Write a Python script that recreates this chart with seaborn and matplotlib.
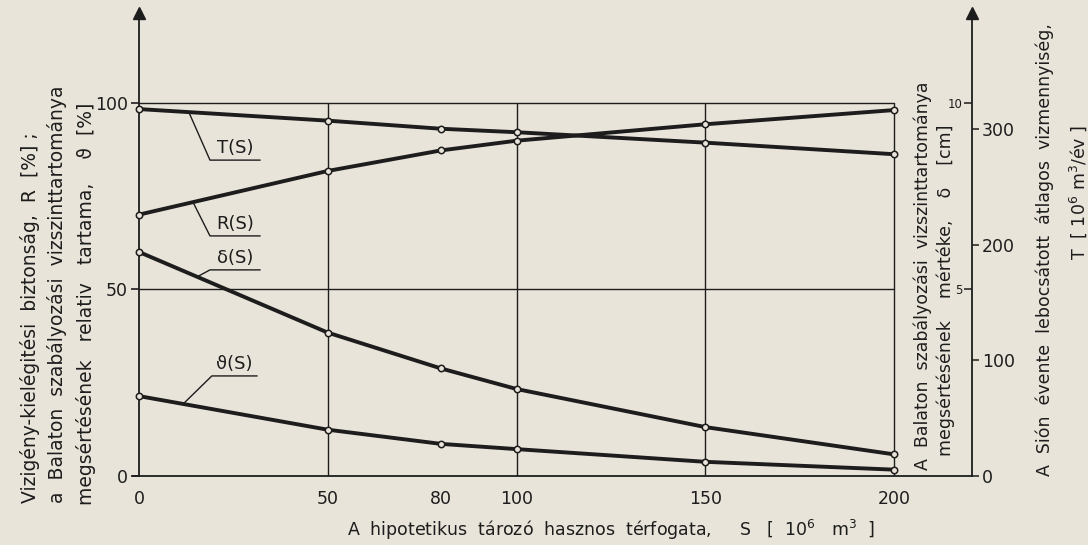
import numpy as np
import matplotlib
matplotlib.use("Agg")
import matplotlib.pyplot as plt
import seaborn as sns

# --- data -----------------------------------------------------------------
S = [0, 50, 80, 100, 150, 200]                       # S [10^6 m3]
R = [70.0, 81.7, 87.2, 89.8, 94.2, 98.0]             # R(S) [%]
THETA = [21.4, 12.4, 8.6, 7.2, 3.8, 1.7]             # ϑ(S) [%]
DELTA = [6.0, 3.84, 2.88, 2.33, 1.31, 0.58]          # δ(S) [cm]
T = [317, 307, 300, 297, 288, 278]                   # T(S) [10^6 m3/év]

x_ticks = [0, 50, 80, 100, 150, 200]
pct_ticks = [0, 50, 100]
delta_ticks = [5, 10]
t_ticks = [0, 100, 200, 300]

# --- style ----------------------------------------------------------------
PAPER = "#e9e4d9"
INK = "#1d1d1d"
sns.set_theme(style="white")
plt.rcParams["font.family"] = ["DejaVu Sans"]
plt.rcParams["mathtext.fontset"] = "dejavusans"
plt.rcParams["text.color"] = INK
plt.rcParams["axes.edgecolor"] = INK
plt.rcParams["xtick.color"] = INK
plt.rcParams["ytick.color"] = INK
FS = 12.5

W, H = 1088, 545
fig = plt.figure(figsize=(W / 100, H / 100), dpi=100)
fig.patch.set_facecolor(PAPER)

# axes frame in pixel terms
left_px, right_px, bottom_px, top_px = 133, 972, 476, 13
ax = fig.add_axes([left_px / W, (H - bottom_px) / H,
                   (right_px - left_px) / W, (bottom_px - top_px) / H])
ax.set_facecolor(PAPER)

PCT_TOP = 124.0
ax.set_xlim(-1.59, 220.66)
ax.set_ylim(0, PCT_TOP)

# secondary scales: δ [cm] (ticks on the inner side) and T (outer side)
ax_d = ax.twinx()
ax_d.set_ylim(0, PCT_TOP / 10)
ax_t = ax.twinx()
T_TOP = 400.0
ax_t.set_ylim(0, T_TOP)
pct_per_t = PCT_TOP / T_TOP

# spines
for a in (ax, ax_d, ax_t):
    for sp in a.spines.values():
        sp.set_visible(False)
ax.spines["left"].set_visible(True)
ax.spines["left"].set_position(("data", 0))
ax.spines["bottom"].set_visible(True)
ax.spines["right"].set_visible(True)
for k in ("left", "bottom", "right"):
    ax.spines[k].set_linewidth(1.3)

# axis arrows
ax.plot(0.0, 1.0, marker="^", ms=9, color=INK, clip_on=False,
        transform=ax.get_xaxis_transform(), zorder=6)
ax.plot(1.0, 1.0, marker="^", ms=9, color=INK, clip_on=False,
        transform=ax.transAxes, zorder=6)

# grid (only inside the 0..200 x 0..100 field)
for s in [50, 100, 150, 200]:
    ax.plot([s, s], [0, 100], color=INK, lw=1.0, zorder=1)
for p in [50, 100]:
    ax.plot([0, 200], [p, p], color=INK, lw=1.0, zorder=1)

# ticks
ax.set_xticks(x_ticks)
ax.set_xticklabels([str(v) for v in x_ticks], fontsize=FS)
ax.tick_params(axis="x", direction="out", length=7, width=1.2, pad=3)
ax.set_yticks(pct_ticks)
ax.set_yticklabels([str(v) for v in pct_ticks], fontsize=FS)
ax.tick_params(axis="y", direction="out", length=6, width=1.2, pad=2)

ax_d.yaxis.set_ticks_position("left")
ax_d.yaxis.set_label_position("left")
ax_d.spines["left"].set_position(("axes", 1.0))
ax_d.set_yticks(delta_ticks)
ax_d.set_yticklabels([str(v) for v in delta_ticks], fontsize=8.5)
ax_d.tick_params(axis="y", direction="out", length=6, width=1.1, pad=1)

ax_t.yaxis.set_ticks_position("right")
ax_t.set_yticks(t_ticks)
ax_t.set_yticklabels([str(v) for v in t_ticks], fontsize=FS)
ax_t.tick_params(axis="y", direction="out", length=5, width=1.1, pad=2)

# --- curves -----------------------------------------------------------------
LW = 2.8
def curve(a, y):
    sns.lineplot(x=S, y=y, ax=a, color=INK, lw=LW, zorder=3,
                 solid_capstyle="butt", legend=False)
    a.plot(S, y, ls="none", marker="o", ms=4.6, mfc=PAPER, mec=INK,
           mew=1.1, zorder=4, clip_on=False)

curve(ax, R)
curve(ax, THETA)
curve(ax_d, DELTA)
curve(ax_t, T)

# --- curve labels with leader lines (in % units of the main scale) ----------
T_pct = [v * pct_per_t for v in T]
D_pct = [v * 10 for v in DELTA]
labels = [
    ("T(S)", T_pct, 13.2, 18.8, 84.6, 32.1),
    ("R(S)", R, 14.3, 18.8, 64.3, 32.1),
    ("δ(S)", D_pct, 15.4, 18.8, 55.2, 32.1),
    ("ϑ(S)", THETA, 11.7, 19.3, 26.8, 31.3),
]
for text, ser, s0, xe, ye, xend in labels:
    y0 = float(np.interp(s0, S, ser))
    ax.plot([s0, xe, xend], [y0, ye, ye], color=INK, lw=1.0, zorder=2)
    ax.text((xe + xend) / 2, ye + 0.9, text, ha="center", va="bottom",
            fontsize=13)

# --- axis titles --------------------------------------------------------------
def vtext(xp, yp, s, fs=FS):
    fig.text(xp / W, 1 - yp / H, s, rotation=90, rotation_mode="anchor",
             ha="left", va="center", fontsize=fs)

SUP6 = r"$^{\mathregular{6}}$"
SUP3 = r"$^{\mathregular{3}}$"

vtext(30, 503, "Vizigény-kielégitési  biztonság,  R  [%] ;", 13.5)
vtext(57, 503, "a  Balaton  szabályozási  vizszinttartománya", 13.5)
vtext(86, 505, "megsértésének   relativ   tartama,    ϑ  [%]", 13.5)

vtext(923, 470, "A  Balaton  szabályozási  vizszinttartománya")
vtext(946, 456, "megsértésének    mértéke,    δ    [cm]")

vtext(1045, 476, "A  Sión  évente  lebocsátott  átlagos  vizmennyiség,")
vtext(1078, 260, "T  [ 10" + SUP6 + " m" + SUP3 + "/év ]")

fig.text(347 / W, 1 - 530 / H,
         "A  hipotetikus  tározó  hasznos  térfogata,     S   [  10" + SUP6
         + "   m" + SUP3 + "  ]",
         ha="left", va="center", fontsize=FS)

fig.savefig("out.png", dpi=100, facecolor=PAPER)
